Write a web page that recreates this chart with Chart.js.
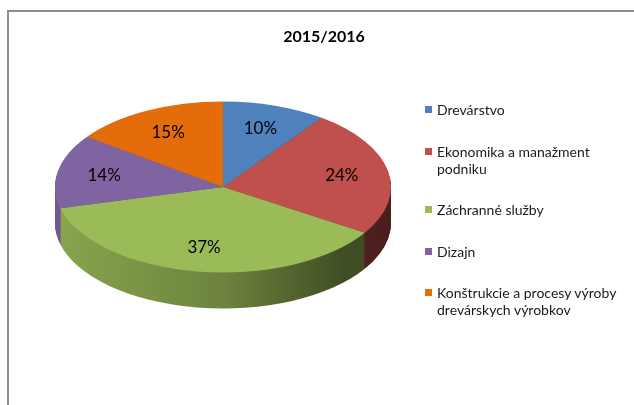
<!DOCTYPE html>
<html>
<head>
<meta charset="utf-8">
<script src="https://cdn.jsdelivr.net/npm/chart.js@4.4.1/dist/chart.umd.min.js"></script>
<style>
body { margin: 0; background: #fff; }
#wrap { position: relative; width: 634px; height: 405px; overflow: hidden; font-family: Lato, "Open Sans", sans-serif; }
#frame { position: absolute; left: 7px; top: 10px; width: 700px; height: 500px; border-left: 2px solid #8e8e8e; border-top: 2px solid #8e8e8e; }
#pie { position: absolute; left: 0; top: 0; }
#title { position: absolute; left: 0; width: 648px; top: 26px; line-height: 20px; text-align: center; font-weight: bold; font-size: 16px; color: #000; }
#legend { position: absolute; left: 425px; top: 101px; width: 200px; height: 217px; display: flex; flex-direction: column; justify-content: space-between; }
.item { display: flex; align-items: flex-start; font-size: 14px; line-height: 17px; color: #1a1a1a; }
.box { width: 7px; height: 7px; margin: 5px 5px 0 0; flex: none; }
.txt { width: 182px; }
</style>
</head>
<body>
<div id="wrap">
  <div id="frame"></div>
  <canvas id="pie" width="634" height="405"></canvas>
  <div id="title"></div>
  <div id="legend"></div>
</div>
<script>
var chartTitle = '2015/2016';
var categories = ['Drevárstvo', 'Ekonomika a manažment podniku', 'Záchranné služby', 'Dizajn', 'Konštrukcie a procesy výroby drevárskych výrobkov'];
var shares = [10, 24, 37, 14, 15];
var sliceColors = ['#4F81BD', '#C0504D', '#9BBB59', '#8064A2', '#E46C0A'];

// look of the tilted pie
var tilt = 0.509;      // vertical squash of the top face
var depth = 36;        // thickness of the side in px
var labelPos = 0.72;   // label distance from centre, share of radius

document.getElementById('title').textContent = chartTitle;

var legendDiv = document.getElementById('legend');
for (var i = 0; i < categories.length; i++) {
    var row = document.createElement('div');
    row.className = 'item';
    row.innerHTML = '<span class="box" style="background:' + sliceColors[i] + '"></span><span class="txt"></span>';
    row.querySelector('.txt').textContent = categories[i];
    legendDiv.appendChild(row);
}

function shade(hex, f) {
    var r = parseInt(hex.substr(1, 2), 16), g = parseInt(hex.substr(3, 2), 16), b = parseInt(hex.substr(5, 2), 16);
    return 'rgb(' + Math.round(r * f) + ',' + Math.round(g * f) + ',' + Math.round(b * f) + ')';
}

// squash the pie to an ellipse and give it a side
var tiltPlugin = {
    id: 'tilt',
    beforeDatasetsDraw: function(chart) {
        var ctx = chart.ctx;
        var arcs = chart.getDatasetMeta(0).data;
        if (!arcs.length) return false;
        var cx = arcs[0].x, cy = arcs[0].y, r = arcs[0].outerRadius;

        // side, drawn as stacked layers from the bottom up
        var sides = arcs.map(function(arc, i) {
            var grad = ctx.createLinearGradient(cx - r, 0, cx + r, 0);
            grad.addColorStop(0, shade(sliceColors[i], 0.88));
            grad.addColorStop(0.5, shade(sliceColors[i], 0.70));
            grad.addColorStop(0.85, shade(sliceColors[i], 0.42));
            grad.addColorStop(1, shade(sliceColors[i], 0.38));
            var s = Object.create(arc);
            s.options = Object.assign({}, arc.options, {backgroundColor: grad});
            return s;
        });
        for (var d = depth; d >= 1; d--) {
            ctx.save();
            ctx.translate(0, cy + d);
            ctx.scale(1, tilt);
            ctx.translate(0, -cy);
            sides.forEach(function(s) { s.draw(ctx); });
            ctx.restore();
        }

        // top face
        ctx.save();
        ctx.translate(0, cy);
        ctx.scale(1, tilt);
        ctx.translate(0, -cy);
        arcs.forEach(function(arc) { arc.draw(ctx); });
        ctx.restore();

        // percentage labels
        var total = shares.reduce(function(a, b) { return a + b; }, 0);
        ctx.save();
        ctx.fillStyle = '#000';
        ctx.font = '17px Lato, "Open Sans", sans-serif';
        ctx.textAlign = 'center';
        ctx.textBaseline = 'middle';
        arcs.forEach(function(arc, i) {
            var a = (arc.startAngle + arc.endAngle) / 2;
            var x = cx + Math.cos(a) * r * labelPos;
            var y = cy + Math.sin(a) * r * labelPos * tilt;
            ctx.fillText(Math.round(shares[i] * 100 / total) + '%', x, y);
        });
        ctx.restore();
        return false;
    }
};

var ctx = document.getElementById('pie').getContext('2d');
var chart = new Chart(ctx, {
    type: 'pie',
    data: {
        labels: categories,
        datasets: [{
            data: shares,
            backgroundColor: sliceColors,
            borderWidth: 0,
            hoverOffset: 0
        }]
    },
    options: {
        responsive: false,
        animation: false,
        layout: { padding: { left: 55, right: 243, top: 19, bottom: 50 } },
        plugins: {
            legend: { display: false },
            title: { display: false },
            tooltip: { enabled: false }
        }
    },
    plugins: [tiltPlugin]
});
</script>
</body>
</html>
